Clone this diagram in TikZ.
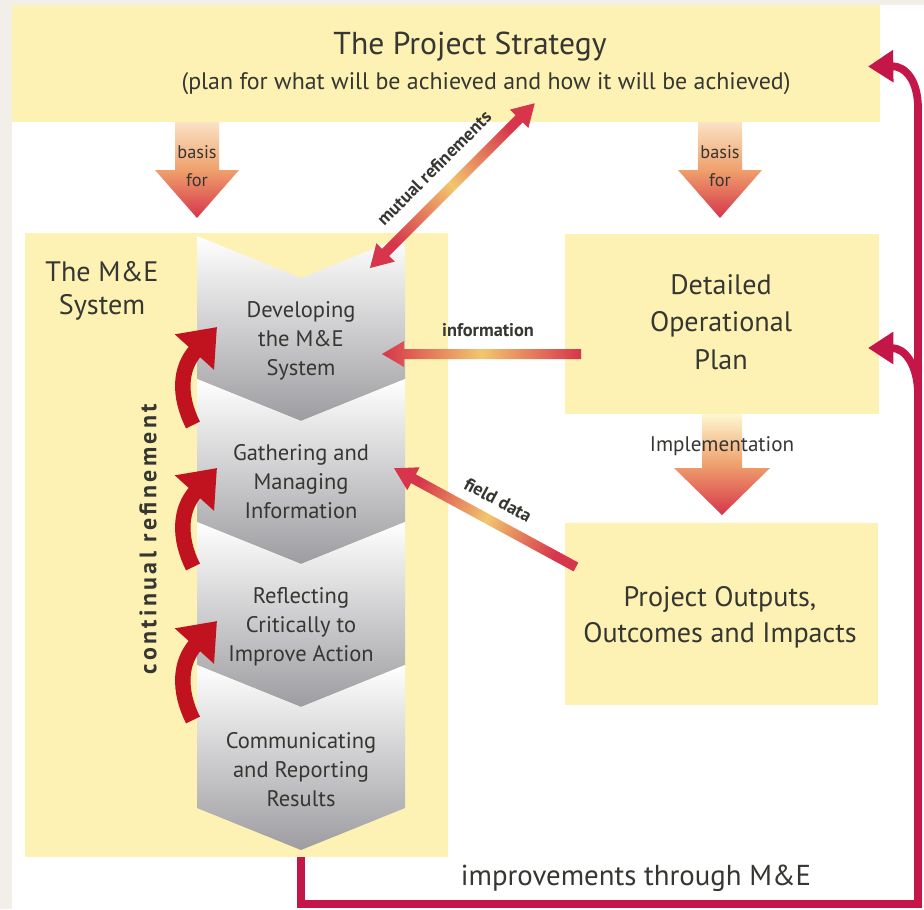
\documentclass[tikz,border=0pt]{standalone}
\usepackage{fontspec}
\setmainfont{PT Sans}
\usetikzlibrary{arrows.meta,fit,calc}

\definecolor{boxyellow}{HTML}{FDF2B3}
\definecolor{framegray}{HTML}{F2EFE8}
\definecolor{loopred}{HTML}{C51649}
\definecolor{bendred}{HTML}{C1121F}
\definecolor{flowred}{HTML}{D6354B}
\definecolor{flowyellow}{HTML}{F2C66E}
\definecolor{flowpeach}{HTML}{FAE3C4}
\definecolor{floworange}{HTML}{EFA06C}
\definecolor{chevgray}{HTML}{9D9DA1}
\definecolor{inkgray}{HTML}{363632}

\begin{document}
\begin{tikzpicture}[x=0.025cm, y=-0.025cm, text=inkgray,
    box/.style={fill=boxyellow, inner sep=0pt, outer sep=0pt},
    chevron/.style={top color=white, bottom color=chevgray},
    chevtext/.style={align=center, font=\fontsize{16}{20.6}\selectfont},
    boxtext/.style={align=center, font=\fontsize{20}{26.5}\selectfont},
    flowlabel/.style={font=\bfseries\fontsize{13}{15}\selectfont},
    bendarrow/.style={draw=bendred, line width=11pt, -{Triangle[width=36pt, length=24pt]}},
    improve/.style={draw=loopred, line width=5.5pt, -{Triangle[width=22pt, length=18pt]}},
    fatarrow/.style={top color=flowpeach, bottom color=flowred, middle color=floworange},
    thinarrow/.style={top color=flowred, bottom color=flowred, middle color=flowyellow}
  ]
  \useasboundingbox (0,0) rectangle (924,909);
  \fill[white] (0,0) rectangle (924,909);
  \fill[framegray] (0,0) rectangle (12,909);
  \fill[framegray] (0,0) rectangle (924,5);

  % boxes
  \node[box, fit={(12,5) (880,122)}] (strategy) {};
  \node[box, fit={(25,233) (448,857)}] (mebox) {};
  \node[box, fit={(565,234) (879,414)}] (plan) {};
  \node[box, fit={(565,523) (878,705)}] (outputs) {};

  \node[font=\fontsize{22.5}{26}\selectfont] (strattitle) at (470,47) {The Project Strategy};
  \node[font=\fontsize{17}{20}\selectfont] (stratsub) at (486,84) {(plan for what will be achieved and how it will be achieved)};
  \node[align=center, font=\fontsize{20}{23.5}\selectfont] (metitle) at (102,291) {The M\&E\\System};
  \node[boxtext] (plantext) at (721,322) {Detailed\\Operational\\Plan};
  \node[boxtext, font=\fontsize{20}{25.6}\selectfont] (outtext) at (720,617) {Project Outputs,\\Outcomes and Impacts};

  % the four steps
  \shade[chevron] (197,236) -- (301,278) -- (405,236) -- (405,379) -- (301,421) -- (197,379) -- cycle;
  \shade[chevron] (197,379) -- (301,421) -- (405,379) -- (405,522) -- (301,564) -- (197,522) -- cycle;
  \shade[chevron] (197,522) -- (301,564) -- (405,522) -- (405,665) -- (301,707) -- (197,665) -- cycle;
  \shade[chevron] (197,665) -- (301,707) -- (405,665) -- (405,808) -- (301,850) -- (197,808) -- cycle;
  \node[chevtext] (dev) at (301,341) {Developing\\the M\&E\\System};
  \node[chevtext] (gath) at (301,482) {Gathering and\\Managing\\Information};
  \node[chevtext] (refl) at (301,627) {Reflecting\\Critically to\\Improve Action};
  \node[chevtext] (comm) at (301,770) {Communicating\\and Reporting\\Results};

  \node[rotate=90, font=\bfseries\fontsize{17}{19}\selectfont\addfontfeature{LetterSpace=14}] (contref) at (148,539) {continual refinement};

  % continual refinement arrows
  \coordinate (devin) at (217,327);
  \coordinate (gathin) at (217,468);
  \coordinate (reflin) at (217,621);
  \coordinate (gathout) at (193,425);
  \coordinate (reflout) at (193,567);
  \coordinate (commout) at (193,720);
  \draw[bendarrow] (gathout) .. controls +(-15,-30) and +(-37,41) .. (devin);
  \draw[bendarrow] (reflout) .. controls +(-15,-30) and +(-37,41) .. (gathin);
  \draw[bendarrow] (commout) .. controls +(-15,-30) and +(-37,41) .. (reflin);

  % basis for
  \shade[fatarrow] (175,122) -- (219,122) -- (219,170) -- (239,170) -- (197,218) -- (155,170) -- (175,170) -- cycle;
  \node[align=center, font=\fontsize{13}{20}\selectfont] (basisl) at (197,166) {basis\\for};
  \shade[fatarrow] (698,122) -- (742,122) -- (742,170) -- (762,170) -- (720,218) -- (678,170) -- (698,170) -- cycle;
  \node[align=center, font=\fontsize{13}{20}\selectfont] (basisr) at (720,166) {basis\\for};

  % implementation
  \shade[fatarrow, top color=boxyellow!60!white, bottom color=flowred, middle color=floworange]
    (702,414) -- (742,414) -- (742,468) -- (770,468) -- (722,515) -- (674,468) -- (702,468) -- cycle;
  \node[font=\fontsize{15}{17}\selectfont] (impl) at (722,446) {Implementation};

  % information and field data
  \begin{scope}[shift={(581,354)}, rotate=180]
    \shade[thinarrow, shading angle=90] (0,-5) -- (177,-5) -- (177,-13) -- (199,0) -- (177,13) -- (177,5) -- (0,5) -- cycle;
  \end{scope}
  \node[flowlabel] (infolabel) at (488,330) {information};
  \begin{scope}[shift={(576,567)}, rotate=151.5]
    \shade[thinarrow, shading angle=61.5] (0,-5) -- (185,-5) -- (185,-13) -- (207,0) -- (185,13) -- (185,5) -- (0,5) -- cycle;
  \end{scope}
  \node[flowlabel, rotate=-28.5] (fieldlabel) at (498,500) {field data};

  % mutual refinements
  \begin{scope}[shift={(370,268)}, rotate=45]
    \shade[thinarrow, shading angle=-45] (0,0) -- (22,-13) -- (22,-5) -- (211,-5) -- (211,-13) -- (233,0) -- (211,13) -- (211,5) -- (22,5) -- (22,13) -- cycle;
  \end{scope}
  \node[flowlabel, rotate=45] (mutuallabel) at (434,168) {mutual refinements};

  % improvements through M&E
  \draw[improve] (mebox.south -| comm) |- (918,904) -- (918,108) .. controls (918,80) and (905,66) .. ($(strategy.east)+(-12,3)$);
  \draw[improve] (918,395) .. controls (918,365) and (905,348) .. ($(plan.east)+(-11,24)$);
  \node[font=\fontsize{20.5}{24}\selectfont] (improvelabel) at (636,878) {improvements through M\&E};
\end{tikzpicture}
\end{document}
